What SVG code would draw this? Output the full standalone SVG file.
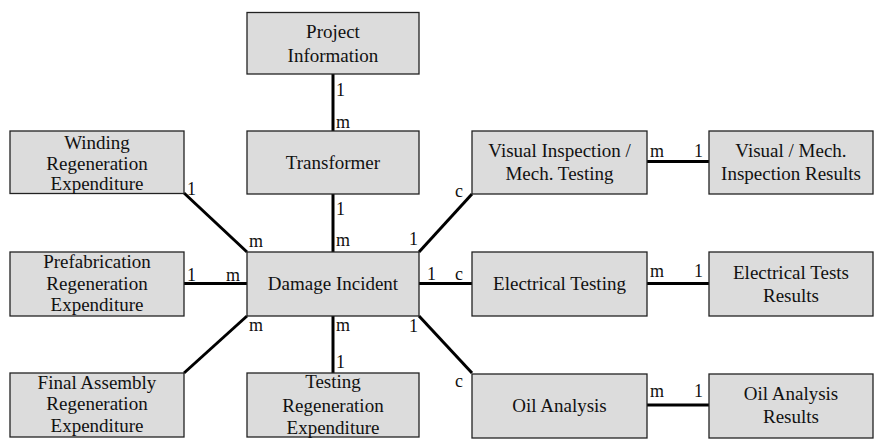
<svg xmlns="http://www.w3.org/2000/svg" width="874" height="439" viewBox="0 0 874 439">
<style>
.box{fill:#dcdcdc;stroke:#222;stroke-width:1.3}
.t{font-family:'Liberation Serif','DejaVu Serif',serif;font-size:19px;fill:#111;text-anchor:middle}
.c{font-family:'Liberation Serif','DejaVu Serif',serif;font-size:18px;fill:#111}
.ln{stroke:#000;stroke-width:3;fill:none}
</style>
<rect width="874" height="439" fill="#fff"/>
<g id="connectors">
<line class="ln" x1="333" y1="74" x2="333" y2="131"/>
<line class="ln" x1="333" y1="194" x2="333" y2="252"/>
<line class="ln" x1="333" y1="316" x2="333" y2="373"/>
<line class="ln" x1="184" y1="193" x2="247" y2="252"/>
<line class="ln" x1="184" y1="283.5" x2="247" y2="283.5"/>
<line class="ln" x1="247" y1="316" x2="184" y2="373"/>
<line class="ln" x1="419" y1="252" x2="472" y2="194"/>
<line class="ln" x1="419" y1="283.5" x2="472" y2="283.5"/>
<line class="ln" x1="419" y1="316" x2="472" y2="373"/>
<line class="ln" x1="647" y1="161.5" x2="709" y2="161.5"/>
<line class="ln" x1="647" y1="283.5" x2="709" y2="283.5"/>
<line class="ln" x1="647" y1="405" x2="709" y2="405"/>
<text class="c" x="336" y="96">1</text>
<text class="c" x="336" y="127.5">m</text>
<text class="c" x="336" y="215">1</text>
<text class="c" x="336" y="246">m</text>
<text class="c" x="336" y="331">m</text>
<text class="c" x="336" y="368">1</text>
<text class="c" x="187" y="195">1</text>
<text class="c" x="249" y="246.5">m</text>
<text class="c" x="187" y="280.5">1</text>
<text class="c" x="226" y="280.5">m</text>
<text class="c" x="249" y="331">m</text>
<text class="c" x="409" y="245">1</text>
<text class="c" x="455" y="197">c</text>
<text class="c" x="427" y="280">1</text>
<text class="c" x="455" y="280">c</text>
<text class="c" x="409" y="331.5">1</text>
<text class="c" x="455" y="386.5">c</text>
<text class="c" x="650" y="156.5">m</text>
<text class="c" x="694" y="156.5">1</text>
<text class="c" x="650" y="276.5">m</text>
<text class="c" x="694" y="276.5">1</text>
<text class="c" x="650" y="397">m</text>
<text class="c" x="694" y="397">1</text>
</g>
<g id="project-information">
<rect class="box" x="247" y="12.5" width="172" height="61.5"/>
<text class="t" x="333" y="37.5">Project</text>
<text class="t" x="333" y="61.5">Information</text>
</g>
<g id="transformer">
<rect class="box" x="247" y="131" width="172" height="63"/>
<text class="t" x="333" y="168.5">Transformer</text>
</g>
<g id="winding">
<rect class="box" x="10" y="131" width="174" height="62.5"/>
<text class="t" x="97" y="149">Winding</text>
<text class="t" x="97" y="169.5">Regeneration</text>
<text class="t" x="97" y="190">Expenditure</text>
</g>
<g id="prefabrication">
<rect class="box" x="10" y="252" width="174" height="64"/>
<text class="t" x="97" y="268">Prefabrication</text>
<text class="t" x="97" y="290">Regeneration</text>
<text class="t" x="97" y="311">Expenditure</text>
</g>
<g id="final-assembly">
<rect class="box" x="10" y="373" width="174" height="64"/>
<text class="t" x="97" y="388.5">Final Assembly</text>
<text class="t" x="97" y="410">Regeneration</text>
<text class="t" x="97" y="431.5">Expenditure</text>
</g>
<g id="damage-incident">
<rect class="box" x="247" y="252" width="172" height="64"/>
<text class="t" x="333" y="290">Damage Incident</text>
</g>
<g id="testing-regeneration">
<rect class="box" x="247" y="373" width="172" height="64"/>
<text class="t" x="333" y="388">Testing</text>
<text class="t" x="333" y="412">Regeneration</text>
<text class="t" x="333" y="433.5">Expenditure</text>
</g>
<g id="visual-inspection">
<rect class="box" x="472" y="131" width="175" height="63"/>
<text class="t" x="559.5" y="156.5">Visual Inspection /</text>
<text class="t" x="559.5" y="180">Mech. Testing</text>
</g>
<g id="electrical-testing">
<rect class="box" x="472" y="252" width="175" height="64"/>
<text class="t" x="559.5" y="289.5">Electrical Testing</text>
</g>
<g id="oil-analysis">
<rect class="box" x="472" y="374" width="175" height="64"/>
<text class="t" x="559.5" y="411.5">Oil Analysis</text>
</g>
<g id="visual-results">
<rect class="box" x="709" y="131" width="164" height="63"/>
<text class="t" x="791" y="156.5">Visual / Mech.</text>
<text class="t" x="791" y="180">Inspection Results</text>
</g>
<g id="electrical-results">
<rect class="box" x="709" y="252" width="164" height="64"/>
<text class="t" x="791" y="278.5">Electrical Tests</text>
<text class="t" x="791" y="301.5">Results</text>
</g>
<g id="oil-results">
<rect class="box" x="709" y="374" width="164" height="64"/>
<text class="t" x="791" y="400">Oil Analysis</text>
<text class="t" x="791" y="422.5">Results</text>
</g>
</svg>
